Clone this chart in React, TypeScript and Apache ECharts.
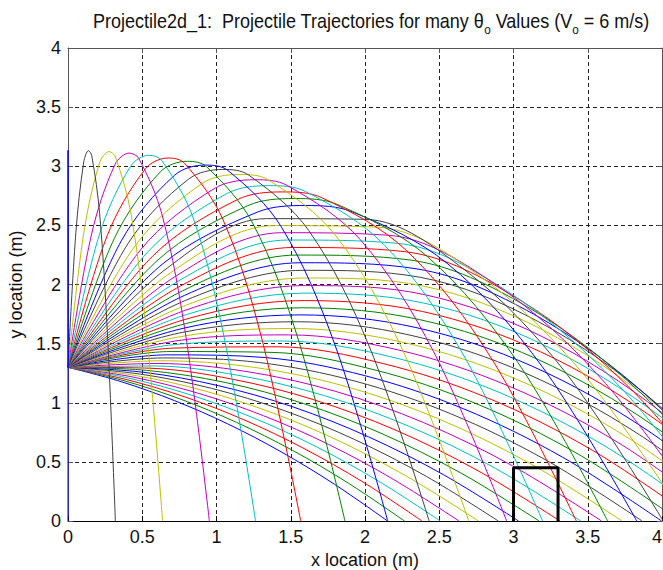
import React, { useEffect, useRef } from 'react';
import * as echarts from 'echarts';

// Launch angles (degrees) of the 50 plotted trajectories
const launchAnglesDeg = [
  -16.0, -13.8, -11.7, -9.5, -7.3, -5.2, -3.0, -0.9, 1.3, 3.5,
  5.6, 7.8, 10.0, 12.1, 14.3, 16.4, 18.6, 20.8, 22.9, 25.1,
  27.3, 29.4, 31.6, 33.8, 35.9, 38.1, 40.2, 42.4, 44.6, 46.7,
  48.9, 51.1, 53.2, 55.4, 57.6, 59.7, 61.9, 64.0, 66.2, 68.4,
  70.5, 72.7, 74.9, 77.0, 79.2, 81.3, 83.5, 85.7, 87.8, 90.0,
];

// Trajectory points [x (m), y (m)], one list per curve
const trajectories: number[][][] = [
  [[0,1.3],[0.359,1.178],[0.717,1.018],[1.076,0.821],[1.435,0.585],[1.793,0.312],[2.152,0]],
  [[0,1.3],[0.378,1.186],[0.755,1.032],[1.133,0.835],[1.511,0.598],[1.888,0.320],[2.266,0]],
  [[0,1.3],[0.397,1.195],[0.795,1.046],[1.192,0.852],[1.589,0.613],[1.987,0.329],[2.384,0]],
  [[0,1.3],[0.418,1.206],[0.836,1.062],[1.253,0.870],[1.671,0.629],[2.089,0.339],[2.507,0]],
  [[0,1.3],[0.439,1.217],[0.878,1.080],[1.317,0.890],[1.756,0.647],[2.194,0.350],[2.633,0]],
  [[0,1.3],[0.461,1.229],[0.921,1.100],[1.382,0.912],[1.843,0.667],[2.303,0.362],[2.764,0]],
  [[0,1.3],[0.483,1.243],[0.966,1.122],[1.449,0.937],[1.932,0.688],[2.415,0.376],[2.898,0]],
  [[0,1.3],[0.506,1.258],[1.011,1.145],[1.517,0.964],[2.023,0.712],[2.529,0.391],[3.034,0]],
  [[0,1.3],[0.529,1.274],[1.058,1.172],[1.586,0.993],[2.115,0.738],[2.644,0.407],[3.173,0]],
  [[0,1.3],[0.552,1.292],[1.104,1.200],[1.656,1.025],[2.209,0.767],[2.761,0.425],[3.313,0]],
  [[0,1.3],[0.576,1.311],[1.151,1.231],[1.727,1.060],[2.302,0.798],[2.878,0.445],[3.453,0]],
  [[0,1.3],[0.599,1.332],[1.198,1.265],[1.797,1.098],[2.395,0.832],[2.994,0.466],[3.593,0]],
  [[0,1.3],[0.622,1.355],[1.244,1.301],[1.866,1.139],[2.487,0.868],[3.109,0.488],[3.731,0]],
  [[0,1.3],[0.644,1.379],[1.289,1.340],[1.933,1.183],[2.577,0.907],[3.222,0.513],[3.866,0]],
  [[0,1.3],[0.666,1.405],[1.332,1.382],[1.999,1.229],[2.665,0.948],[3.331,0.539],[3.997,0]],
  [[0,1.3],[0.687,1.433],[1.374,1.426],[2.061,1.279],[2.748,0.993],[3.435,0.566],[4.122,0]],
  [[0,1.3],[0.707,1.462],[1.414,1.473],[2.120,1.332],[2.827,1.040],[3.534,0.596],[4.241,0]],
  [[0,1.3],[0.725,1.493],[1.450,1.522],[2.176,1.388],[2.901,1.089],[3.626,0.626],[4.351,0]],
  [[0,1.3],[0.742,1.526],[1.484,1.574],[2.226,1.446],[2.968,1.141],[3.710,0.659],[4.452,0]],
  [[0,1.3],[0.757,1.559],[1.514,1.628],[2.271,1.507],[3.028,1.195],[3.785,0.693],[4.542,0]],
  [[0,1.3],[0.770,1.595],[1.540,1.685],[2.310,1.570],[3.080,1.251],[3.850,0.728],[4.620,0]],
  [[0,1.3],[0.781,1.631],[1.562,1.743],[2.343,1.636],[3.124,1.310],[3.905,0.764],[4.686,0]],
  [[0,1.3],[0.789,1.668],[1.579,1.803],[2.368,1.703],[3.158,1.370],[3.947,0.802],[4.737,0]],
  [[0,1.3],[0.795,1.707],[1.591,1.864],[2.386,1.772],[3.182,1.431],[3.977,0.840],[4.773,0]],
  [[0,1.3],[0.799,1.746],[1.598,1.927],[2.396,1.843],[3.195,1.494],[3.994,0.879],[4.793,0]],
  [[0,1.3],[0.799,1.786],[1.599,1.991],[2.398,1.915],[3.197,1.557],[3.997,0.919],[4.796,0]],
  [[0,1.3],[0.797,1.826],[1.594,2.055],[2.391,1.987],[3.188,1.622],[3.985,0.959],[4.782,0]],
  [[0,1.3],[0.792,1.866],[1.583,2.120],[2.375,2.060],[3.167,1.686],[3.958,1.000],[4.750,0]],
  [[0,1.3],[0.783,1.907],[1.567,2.184],[2.350,2.132],[3.133,1.751],[3.916,1.040],[4.700,0]],
  [[0,1.3],[0.772,1.947],[1.544,2.249],[2.315,2.205],[3.087,1.816],[3.859,1.081],[4.631,0]],
  [[0,1.3],[0.757,1.987],[1.514,2.313],[2.272,2.277],[3.029,1.880],[3.786,1.121],[4.543,0]],
  [[0,1.3],[0.740,2.027],[1.479,2.376],[2.219,2.348],[2.958,1.943],[3.698,1.160],[4.437,0]],
  [[0,1.3],[0.719,2.065],[1.438,2.438],[2.156,2.417],[2.875,2.004],[3.594,1.199],[4.313,0]],
  [[0,1.3],[0.695,2.103],[1.390,2.498],[2.085,2.485],[2.780,2.065],[3.475,1.236],[4.169,0]],
  [[0,1.3],[0.668,2.139],[1.336,2.557],[2.004,2.551],[2.672,2.123],[3.340,1.273],[4.008,0]],
  [[0,1.3],[0.638,2.175],[1.277,2.613],[1.598,2.668],[1.915,2.614],[2.553,2.179],[3.192,1.308],[3.830,0]],
  [[0,1.3],[0.606,2.208],[1.211,2.667],[1.526,2.727],[1.817,2.675],[2.423,2.233],[3.029,1.342],[3.634,0]],
  [[0,1.3],[0.570,2.240],[1.141,2.718],[1.444,2.783],[1.711,2.733],[2.282,2.284],[2.852,1.374],[3.423,0]],
  [[0,1.3],[0.533,2.270],[1.065,2.766],[1.355,2.836],[1.598,2.787],[2.131,2.333],[2.663,1.404],[3.196,0]],
  [[0,1.3],[0.492,2.298],[0.985,2.811],[1.258,2.886],[1.477,2.837],[1.969,2.378],[2.462,1.432],[2.954,0]],
  [[0,1.3],[0.450,2.324],[0.900,2.852],[1.153,2.931],[1.350,2.884],[1.799,2.419],[2.249,1.458],[2.699,0]],
  [[0,1.3],[0.405,2.348],[0.811,2.890],[1.042,2.973],[1.216,2.926],[1.621,2.457],[2.027,1.481],[2.432,0]],
  [[0,1.3],[0.359,2.369],[0.718,2.924],[0.925,3.010],[1.077,2.964],[1.435,2.490],[1.794,1.502],[2.153,0]],
  [[0,1.3],[0.311,2.387],[0.622,2.953],[0.803,3.042],[0.932,2.997],[1.243,2.520],[1.554,1.521],[1.865,0]],
  [[0,1.3],[0.261,2.403],[0.522,2.979],[0.676,3.070],[0.784,3.026],[1.045,2.545],[1.306,1.537],[1.567,0]],
  [[0,1.3],[0.210,2.416],[0.421,2.999],[0.546,3.093],[0.631,3.049],[0.842,2.566],[1.052,1.550],[1.263,0]],
  [[0,1.3],[0.159,2.427],[0.317,3.016],[0.412,3.111],[0.476,3.068],[0.635,2.582],[0.794,1.560],[0.952,0]],
  [[0,1.3],[0.106,2.434],[0.212,3.028],[0.276,3.124],[0.319,3.081],[0.425,2.594],[0.531,1.567],[0.637,0]],
  [[0,1.3],[0.053,2.438],[0.106,3.035],[0.138,3.132],[0.160,3.089],[0.213,2.601],[0.266,1.572],[0.319,0]],
  [[0,1.3],[0,3.135],[0,0]],
];

// Target box outline (m)
const boxX = [3.0, 3.0, 3.3, 3.3];
const boxY = [0, 0.45, 0.45, 0];

// MATLAB default colour order cycling through the curves
const colorOrder = ['#0000ff', '#008000', '#ff0000', '#00bfbf', '#bf00bf', '#bfbf00', '#404040'];

const axisMin = 0;
const axisMax = 4;
const tickStep = 0.5;

const FONT = '"Liberation Sans", Arial, Helvetica, sans-serif';

export default function App() {
  const ref = useRef<HTMLDivElement>(null);

  useEffect(() => {
    if (!ref.current) return;
    const chart = echarts.init(ref.current, undefined, { renderer: 'svg' });

    const series: any[] = trajectories.map((pts, i) => ({
      name: `θ = ${launchAnglesDeg[i]}°`,
      type: 'line',
      data: pts,
      showSymbol: false,
      symbol: 'none',
      smooth: pts.length > 3 ? 0.34 : false,
      silent: true,
      lineStyle: { width: 1, color: colorOrder[i % colorOrder.length] },
      itemStyle: { color: colorOrder[i % colorOrder.length] },
      z: 2,
    }));
    series.push({
      name: 'box',
      type: 'line',
      data: boxX.map((x, i) => [x, boxY[i]]),
      showSymbol: false,
      symbol: 'none',
      smooth: false,
      silent: true,
      lineStyle: { width: 3, color: '#000' },
      z: 5,
    });

    const axisCommon = {
      type: 'value',
      min: axisMin,
      max: axisMax,
      interval: tickStep,
    };

    chart.setOption({
      animation: false,
      backgroundColor: '#fff',
      grid: {
        left: 68,
        top: 48,
        width: 594,
        height: 473,
        containLabel: false,
        outerBoundsMode: 'none',
      },
      xAxis: [
        {
          ...axisCommon,
          position: 'bottom',
          name: 'x location (m)',
          nameLocation: 'middle',
          nameGap: 27,
          nameTextStyle: { fontSize: 18, fontFamily: FONT, color: '#111' },
          axisLine: { show: true, onZero: false, lineStyle: { color: '#000', width: 1 } },
          axisTick: { show: true, inside: true, length: 5, lineStyle: { color: '#000' } },
          axisLabel: { fontSize: 18, fontFamily: FONT, color: '#111', margin: 7, alignMaxLabel: 'right' },
          splitLine: { show: true, lineStyle: { color: '#222', type: [4, 3], width: 1 } },
        },
        {
          ...axisCommon,
          position: 'top',
          axisLine: { show: true, onZero: false, lineStyle: { color: '#555', width: 1 } },
          axisTick: { show: true, inside: true, length: 5, lineStyle: { color: '#555' } },
          axisLabel: { show: false },
          splitLine: { show: false },
        },
      ],
      yAxis: [
        {
          ...axisCommon,
          position: 'left',
          name: 'y location (m)',
          nameLocation: 'middle',
          nameGap: 40,
          nameTextStyle: { fontSize: 18, fontFamily: FONT, color: '#111' },
          axisLine: { show: true, onZero: false, lineStyle: { color: '#555', width: 1 } },
          axisTick: { show: true, inside: true, length: 5, lineStyle: { color: '#555' } },
          axisLabel: { fontSize: 18, fontFamily: FONT, color: '#111', margin: 7 },
          splitLine: { show: true, lineStyle: { color: '#222', type: [4, 3], width: 1 } },
        },
        {
          ...axisCommon,
          position: 'right',
          axisLine: { show: true, onZero: false, lineStyle: { color: '#555', width: 1 } },
          axisTick: { show: true, inside: true, length: 5, lineStyle: { color: '#555' } },
          axisLabel: { show: false },
          splitLine: { show: false },
        },
      ],
      graphic: [
        {
          type: 'text',
          x: 371,
          y: 21,
          scaleX: 0.9,
          silent: true,
          style: {
            text: 'Projectile2d_1:  Projectile Trajectories for many θ{s|o} Values (V{s|o} = 6 m/s)',
            fontSize: 20,
            fontFamily: FONT,
            fill: '#111',
            align: 'center',
            verticalAlign: 'middle',
            lineHeight: 30,
            rich: {
              s: { fontSize: 13, fontFamily: FONT, fill: '#111', lineHeight: 13, verticalAlign: 'bottom' },
            },
          },
        },
      ],
      series,
    });

    return () => chart.dispose();
  }, []);

  return (
    <div
      ref={ref}
      style={{ position: 'fixed', left: 0, top: 0, width: 663, height: 570, background: '#fff' }}
    />
  );
}
